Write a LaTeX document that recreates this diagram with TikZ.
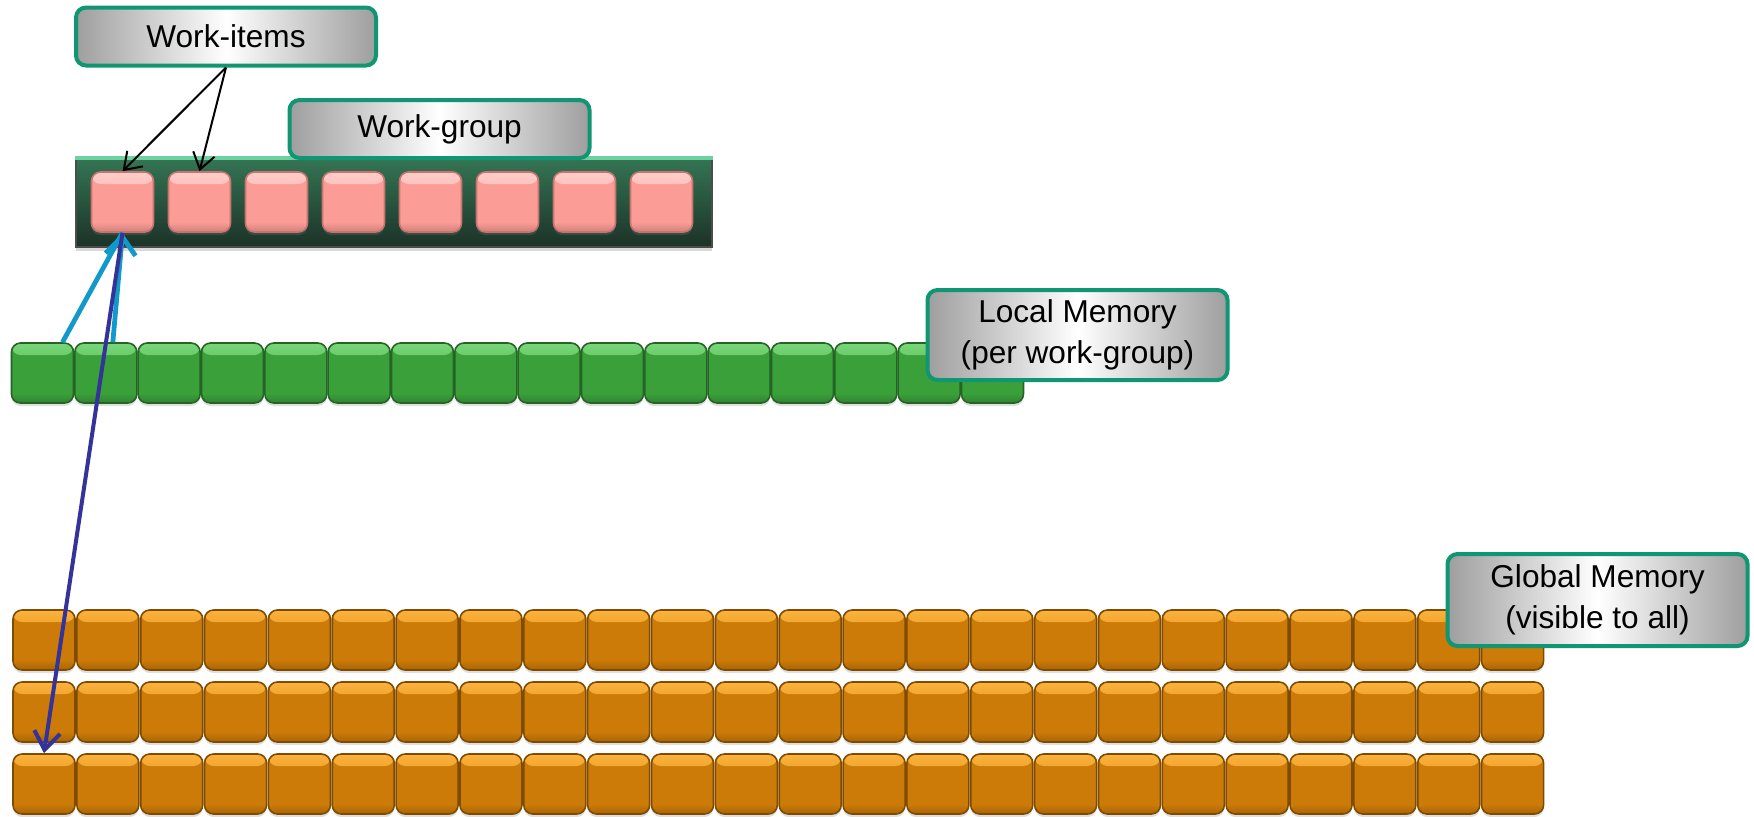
\documentclass[tikz,border=0pt]{standalone}
\usepackage{fontspec}
\setmainfont{Liberation Sans}
\usetikzlibrary{arrows.meta,shadows}

\definecolor{tagedge}{RGB}{16,150,115}
\definecolor{pinkfill}{RGB}{252,156,150}
\definecolor{pinktop}{RGB}{255,205,200}
\definecolor{pinkedge}{RGB}{200,115,110}
\definecolor{greenfill}{RGB}{58,160,58}
\definecolor{greentop}{RGB}{120,215,120}
\definecolor{greenedge}{RGB}{38,100,38}
\definecolor{orangefill}{RGB}{204,122,8}
\definecolor{orangetop}{RGB}{252,178,60}
\definecolor{orangeedge}{RGB}{125,76,0}
\definecolor{wgtop}{RGB}{52,118,84}
\definecolor{wgbot}{RGB}{28,50,40}
\definecolor{wgmint}{RGB}{110,210,160}
\definecolor{lblue}{RGB}{17,153,204}
\definecolor{dblue}{RGB}{51,51,153}

\begin{document}
\begin{tikzpicture}[x=0.5pt, y=-0.5pt, every node/.style={font=\fontsize{15.8}{20.5}\selectfont}, callout/.style={draw=tagedge, line width=2pt, rounded corners=5pt, left color=black!38, right color=black!38, middle color=white, minimum width=150pt, minimum height=29pt, align=center, inner sep=0pt}, cell/.style n args={3}{rounded corners=4.5pt, minimum width=31pt, minimum height=30pt, inner sep=0pt, line width=0.8pt, fill=#2, draw=#3, drop shadow={shadow xshift=0pt, shadow yshift=-1.5pt, opacity=.25}, path picture={\fill[top color=#1, bottom color=#2] (path picture bounding box.north west) rectangle ([yshift=-6pt]path picture bounding box.north east); \fill[top color=#2, bottom color=#2!82!black] ([yshift=5pt]path picture bounding box.south west) rectangle (path picture bounding box.south east);}}, item/.style={cell={pinktop}{pinkfill}{pinkedge}}, lmem/.style={cell={greentop}{greenfill}{greenedge}}, gmem/.style={cell={orangetop}{orangefill}{orangeedge}}, arr/.style={-{Straight Barb[length=8pt,width=11pt]}, line width=1pt}]
\useasboundingbox (0,0) rectangle (1754,816);
% work-group with its work-items
\node[draw=black!70, line width=0.6pt, top color=wgtop, bottom color=wgbot, minimum width=318pt, minimum height=45pt, inner sep=0pt, drop shadow={shadow xshift=0pt, shadow yshift=-2pt, opacity=.3}] (wg) at (394,202) {};
\draw[wgmint, line width=2pt] ([yshift=-1pt]wg.north west) -- ([yshift=-1pt]wg.north east);
\foreach \i in {1,...,8}
  \node[item] (p\i) at ({122.5+77*(\i-1)},202) {};
\node[callout] (witag) at (226,36.5) {Work-items};
\node[callout] (wgtag) at (439.5,129) {Work-group};
% local memory
\foreach \i in {1,...,16}
  \node[lmem] (l\i) at ({42.5+63.33*(\i-1)},373) {};
\node[callout, minimum height=45pt] (lmtag) at (1077.5,335) {Local Memory\\(per work-group)};
% global memory
\foreach \r/\y in {1/640,2/712,3/784}
  \foreach \c in {1,...,24}
    \node[gmem] (g\r-\c) at ({44+63.85*(\c-1)},\y) {};
\node[callout, minimum height=46pt] (gmtag) at (1597.5,600) {Global Memory\\(visible to all)};
% arrows
\draw[arr] (witag.south) -- (p1.north);
\draw[arr] (witag.south) -- (p2.north);
\draw[lblue, line width=2.4pt] ([xshift=10pt]l1.north) -- (p1.south);
\draw[lblue, line width=2.4pt, -{Straight Barb[length=9pt,width=15pt]}] ([xshift=3.5pt]l2.north) -- (p1.south);
\draw[dblue, line width=2pt, -{Straight Barb[length=9pt,width=13pt]}] (p1.south) -- (g3-1.north);
\end{tikzpicture}
\end{document}
